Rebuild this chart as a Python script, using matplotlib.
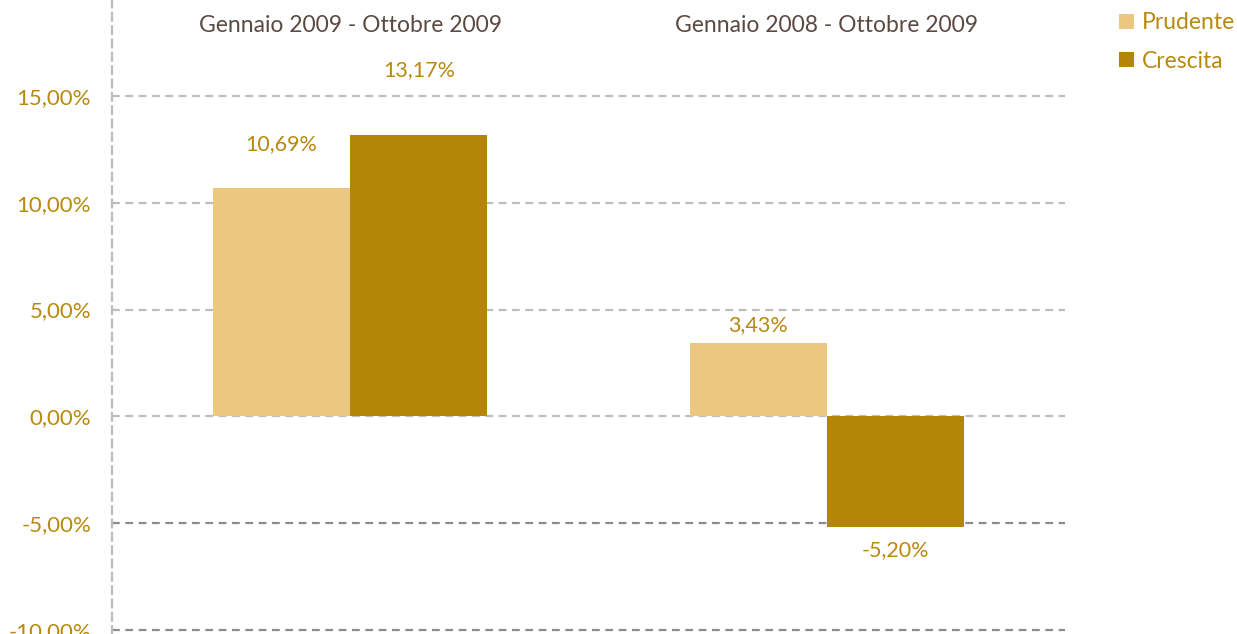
import matplotlib.pyplot as plt
import numpy as np

periods = ["Gennaio 2009 - Ottobre 2009", "Gennaio 2008 - Ottobre 2009"]
series = ["Prudente", "Crescita"]
prudente = [10.69, 3.43]
crescita = [13.17, -5.20]
yticks = [-10, -5, 0, 5, 10, 15]

COLORS = {"Prudente": "#EBC77F", "Crescita": "#B38705"}
LABEL_COLOR = "#B8890C"
TITLE_COLOR = "#5B4A42"
FONT = "Lato"

# label offsets above/below each bar, in pixels (as in the original layout)
LABEL_OFFSETS = {"Prudente": [44, 18], "Crescita": [65, -23]}

fig = plt.figure(figsize=(12.37, 6.34), dpi=100)
ax = fig.add_axes([112 / 1237, 0, 953 / 1237, 1])

x = np.arange(len(periods))
width = 0.288

for i, (name, vals) in enumerate(zip(series, [prudente, crescita])):
    pos = x + (i - 0.5) * width
    ax.bar(pos, vals, width=width, color=COLORS[name], label=name, zorder=3)
    for px, v, off in zip(pos, vals, LABEL_OFFSETS[name]):
        lbl = f"{v:.2f}%".replace(".", ",")
        ax.annotate(lbl, (px, v), xytext=(0, off), textcoords="offset pixels",
                    ha="center", va="center", color=LABEL_COLOR,
                    fontsize=15.5, family=FONT)

ax.set_xlim(-0.5, 1.5)
ax.set_ylim(-10.2, 19.5)

for t in yticks:
    c = "#8c8c8c" if t < 0 else "#bdbdbd"
    ax.axhline(t, color=c, linestyle=(0, (3.5, 2.5)), linewidth=1.6, zorder=1)

for s in ["top", "right", "bottom"]:
    ax.spines[s].set_visible(False)
ax.spines["left"].set_color("#bdbdbd")
ax.spines["left"].set_linewidth(1.6)
ax.spines["left"].set_linestyle((0, (3.5, 2.5)))

ax.set_xticks([])
ax.set_yticks(yticks)
ax.set_yticklabels([f"{t:.2f}%".replace(".", ",") for t in yticks],
                   color=LABEL_COLOR, fontsize=16, family=FONT)
ax.tick_params(axis="y", length=0, pad=15)

for xi, p in zip(x, periods):
    ax.text(xi, 1 - 25 / 634, p, transform=ax.get_xaxis_transform(),
            ha="center", va="center", color=TITLE_COLOR, fontsize=16.5, family=FONT)

leg = ax.legend(loc="upper left", bbox_to_anchor=(1.035, 1.013), frameon=False,
                handlelength=0.65, handleheight=0.65, handletextpad=0.35,
                labelspacing=0.75, prop={"family": FONT, "size": 16.5})
for txt in leg.get_texts():
    txt.set_color(LABEL_COLOR)

fig.savefig("out.png", dpi=100)
